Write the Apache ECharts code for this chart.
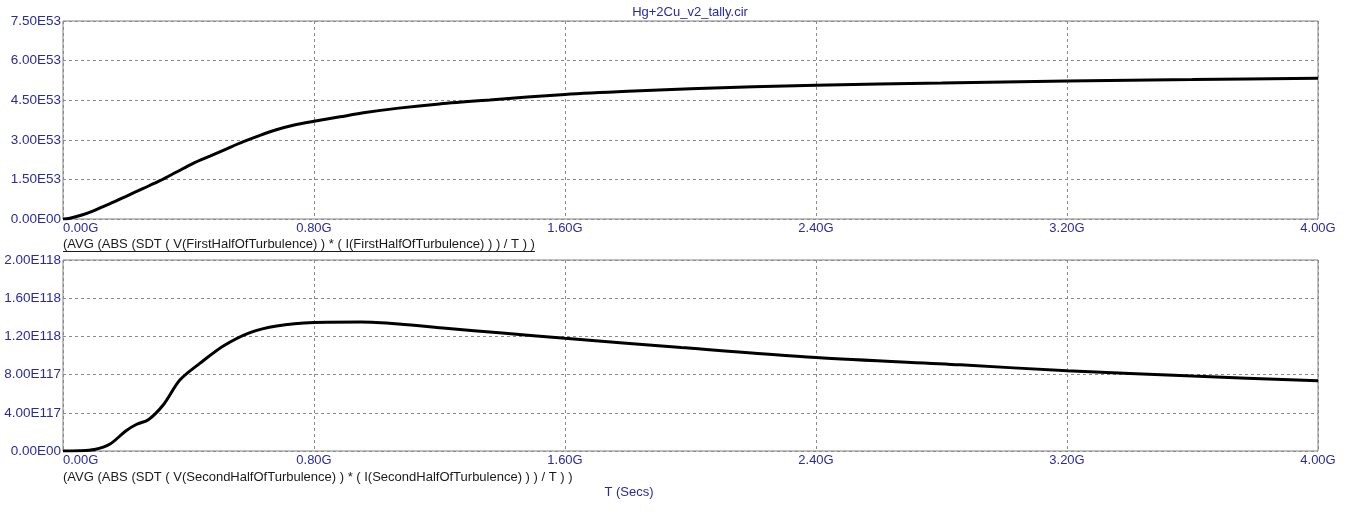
<!DOCTYPE html>
<html>
<head>
<meta charset="utf-8">
<script src="https://cdn.jsdelivr.net/npm/echarts@6/dist/echarts.min.js"></script>
<style>
html,body{margin:0;padding:0;background:#fff;}
#c{width:1353px;height:513px;}
</style>
</head>
<body>
<div id="c"></div>
<script>
// X axis (time, in G seconds)
const xTickLabels = ['0.00G','0.80G','1.60G','2.40G','3.20G','4.00G'];
// Top panel: value in units of 1E53
const topYTickLabels = ['0.00E00','1.50E53','3.00E53','4.50E53','6.00E53','7.50E53'];
const topT = [0,0.022,0.06,0.097,0.15,0.203,0.256,0.309,0.362,0.415,0.47,0.522,0.575,0.628,0.68,0.734,0.8,0.883,0.963,1.07,1.2,1.36,1.6,1.8,2.0,2.4,2.8,3.2,3.6,4.0];
const topV = [0,0.03,0.15,0.31,0.58,0.87,1.16,1.45,1.78,2.11,2.39,2.66,2.93,3.17,3.38,3.55,3.70,3.87,4.03,4.2,4.36,4.51,4.72,4.84,4.93,5.07,5.15,5.23,5.28,5.33];
// Bottom panel: value in units of 1E117
const botYTickLabels = ['0.00E00','4.00E117','8.00E117','1.20E118','1.60E118','2.00E118'];
const botT = [0,0.05,0.1,0.15,0.2,0.235,0.272,0.32,0.373,0.437,0.511,0.596,0.681,0.8,0.95,1.07,1.22,1.4,1.6,1.97,2.4,2.86,3.2,3.6,4.0];
const botV = [0,0.02,0.15,0.73,2.1,2.8,3.27,4.84,7.45,9.2,11.0,12.4,13.1,13.45,13.5,13.3,12.86,12.35,11.8,10.83,9.79,9.02,8.4,7.85,7.35];

const titleText = 'Hg+2Cu_v2_tally.cir';
const topCaption = '(AVG (ABS (SDT ( V(FirstHalfOfTurbulence) ) * ( I(FirstHalfOfTurbulence) ) ) / T ) )';
const botCaption = '(AVG (ABS (SDT ( V(SecondHalfOfTurbulence) ) * ( I(SecondHalfOfTurbulence) ) ) / T ) )';
const xName = 'T (Secs)';

const FONT = "'Liberation Sans', Arial, sans-serif";
const BLUE = '#2a2aa0';

function xAxisCfg(gi){
  return {
    type:'value', gridIndex:gi, min:0, max:4, interval:0.8,
    axisLine:{show:false}, axisTick:{show:false},
    axisLabel:{
      color:BLUE, fontFamily:FONT, fontSize:13, margin:3,
      alignMinLabel:'left',
      formatter:(v)=>xTickLabels[Math.round(v/0.8)]
    },
    splitLine:{show:true, lineStyle:{color:'#8a8a8a', type:[3,3], width:1}}
  };
}
function yAxisCfg(gi, max, interval, labels){
  return {
    type:'value', gridIndex:gi, min:0, max:max, interval:interval,
    axisLine:{show:false}, axisTick:{show:false},
    axisLabel:{
      color:BLUE, fontFamily:FONT, fontSize:13.5, margin:2,
      formatter:(v)=>labels[Math.round(v/interval)]
    },
    splitLine:{show:true, lineStyle:{color:'#8a8a8a', type:[3,3], width:1}}
  };
}

const ctx = document.createElement('canvas').getContext('2d');
ctx.font = '13px ' + FONT;
const capWidth = ctx.measureText(topCaption).width;

const chart = echarts.init(document.getElementById('c'));
chart.setOption({
  animation:false,
  backgroundColor:'#fff',
  grid:[
    {left:63, right:35, top:21, height:198, show:true, borderColor:'#808080', borderWidth:1, backgroundColor:'transparent'},
    {left:63, right:35, top:260, height:191, show:true, borderColor:'#808080', borderWidth:1, backgroundColor:'transparent'}
  ],
  xAxis:[xAxisCfg(0), xAxisCfg(1)],
  yAxis:[
    yAxisCfg(0, 7.5, 1.5, topYTickLabels),
    yAxisCfg(1, 20, 4, botYTickLabels)
  ],
  series:[
    {type:'line', xAxisIndex:0, yAxisIndex:0, symbol:'none', smooth:0.3,
     lineStyle:{color:'#000', width:3}, data:topT.map((t,i)=>[t, topV[i]])},
    {type:'line', xAxisIndex:1, yAxisIndex:1, symbol:'none', smooth:0.3,
     lineStyle:{color:'#000', width:3}, data:botT.map((t,i)=>[t, botV[i]])}
  ],
  graphic:[
    {type:'text', id:'title', x:690, y:12,
     style:{text:titleText, font:'13px '+FONT, fill:BLUE, align:'center', verticalAlign:'middle'}},
    {type:'text', id:'cap1', x:63, y:244,
     style:{text:topCaption, font:'13px '+FONT, fill:'#1a1a1a', align:'left', verticalAlign:'middle'}},
    {type:'line', id:'cap1u', shape:{x1:63, y1:251.5, x2:63+capWidth, y2:251.5},
     style:{stroke:'#1a1a1a', lineWidth:1}},
    {type:'text', id:'cap2', x:63, y:477,
     style:{text:botCaption, font:'13px '+FONT, fill:'#1a1a1a', align:'left', verticalAlign:'middle'}},
    {type:'text', id:'xname', x:629, y:492,
     style:{text:xName, font:'13px '+FONT, fill:BLUE, align:'center', verticalAlign:'middle'}}
  ]
});
</script>
</body>
</html>
